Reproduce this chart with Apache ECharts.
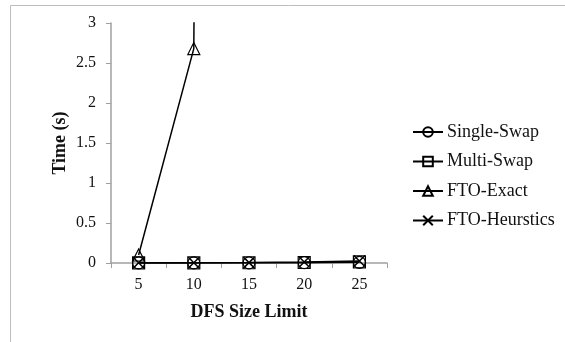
<!DOCTYPE html>
<html>
<head>
<meta charset="utf-8">
<script src="https://cdn.jsdelivr.net/npm/echarts@6/dist/echarts.min.js"></script>
<style>html,body{margin:0;padding:0;background:#fff}#c{width:565px;height:342px}</style>
</head>
<body>
<div id="c"></div>
<script>
var categories = ['5', '10', '15', '20', '25'];
var singleSwap = [0.001, 0.001, 0.002, 0.004, 0.008];
var multiSwap = [0.001, 0.002, 0.003, 0.006, 0.015];
var ftoExact = [0.1, 2.68, 100, null, null];
var ftoHeurstics = [0.002, 0.003, 0.005, 0.012, 0.025];
var seriesNames = ['Single-Swap', 'Multi-Swap', 'FTO-Exact', 'FTO-Heurstics'];

var font = '"Liberation Serif", "Times New Roman", serif';
var chart = echarts.init(document.getElementById('c'), null, {renderer: 'canvas'});
function mk(name, data, symbol) {
  return {
    name: name, type: 'line', data: data, symbol: symbol, symbolSize: 12,
    showAllSymbol: true, clip: true, connectNulls: false,
    lineStyle: {color: '#000', width: 1.5},
    itemStyle: {color: 'rgba(0,0,0,0)', borderColor: '#000', borderWidth: 1.2},
    emphasis: {disabled: true}, animation: false
  };
}
var crossPath = 'path://M0,0L10,10M10,0L0,10';
var option = {
  animation: false,
  graphic: [{type: 'rect', shape: {x: 10.5, y: 5.5, width: 700, height: 500},
    style: {fill: 'none', stroke: '#bdbdbd', lineWidth: 1}, silent: true}],
  grid: {left: 111, right: 178, top: 23, bottom: 79},
  legend: {
    orient: 'vertical', left: 407, top: 118, itemWidth: 30, itemHeight: 12, itemGap: 11.5,
    data: seriesNames,
    textStyle: {fontFamily: font, fontSize: 18, color: '#111', padding: [0, 0, 0, -1]}
  },
  xAxis: {
    type: 'category', data: categories, boundaryGap: true,
    name: 'DFS Size Limit', nameLocation: 'middle', nameGap: 40,
    nameTextStyle: {fontFamily: font, fontSize: 18, fontWeight: 'bold', color: '#111'},
    axisLine: {lineStyle: {color: '#a0a0a0', width: 1.5}},
    axisTick: {show: true, alignWithLabel: false, length: 5, lineStyle: {color: '#a0a0a0'}},
    axisLabel: {fontFamily: font, fontSize: 16, color: '#111', margin: 14}
  },
  yAxis: {
    type: 'value', min: 0, max: 3, interval: 0.5,
    name: 'Time (s)', nameLocation: 'middle', nameGap: 42, nameRotate: 90,
    nameTextStyle: {fontFamily: font, fontSize: 18, fontWeight: 'bold', color: '#111'},
    axisLine: {show: true, lineStyle: {color: '#a0a0a0', width: 1.5}},
    axisTick: {show: true, length: 5, lineStyle: {color: '#a0a0a0'}},
    splitLine: {show: false},
    axisLabel: {fontFamily: font, fontSize: 16, color: '#111', margin: 15}
  },
  series: [
    mk('Single-Swap', singleSwap, 'circle'),
    mk('Multi-Swap', multiSwap, 'rect'),
    mk('FTO-Exact', ftoExact, 'triangle'),
    (function(){ var s = mk('FTO-Heurstics', ftoHeurstics, crossPath); s.itemStyle = {color: '#000', borderColor: '#000', borderWidth: 1.5}; s.symbolSize = 11; return s; })()
  ]
};
chart.setOption(option);
</script>
</body>
</html>
